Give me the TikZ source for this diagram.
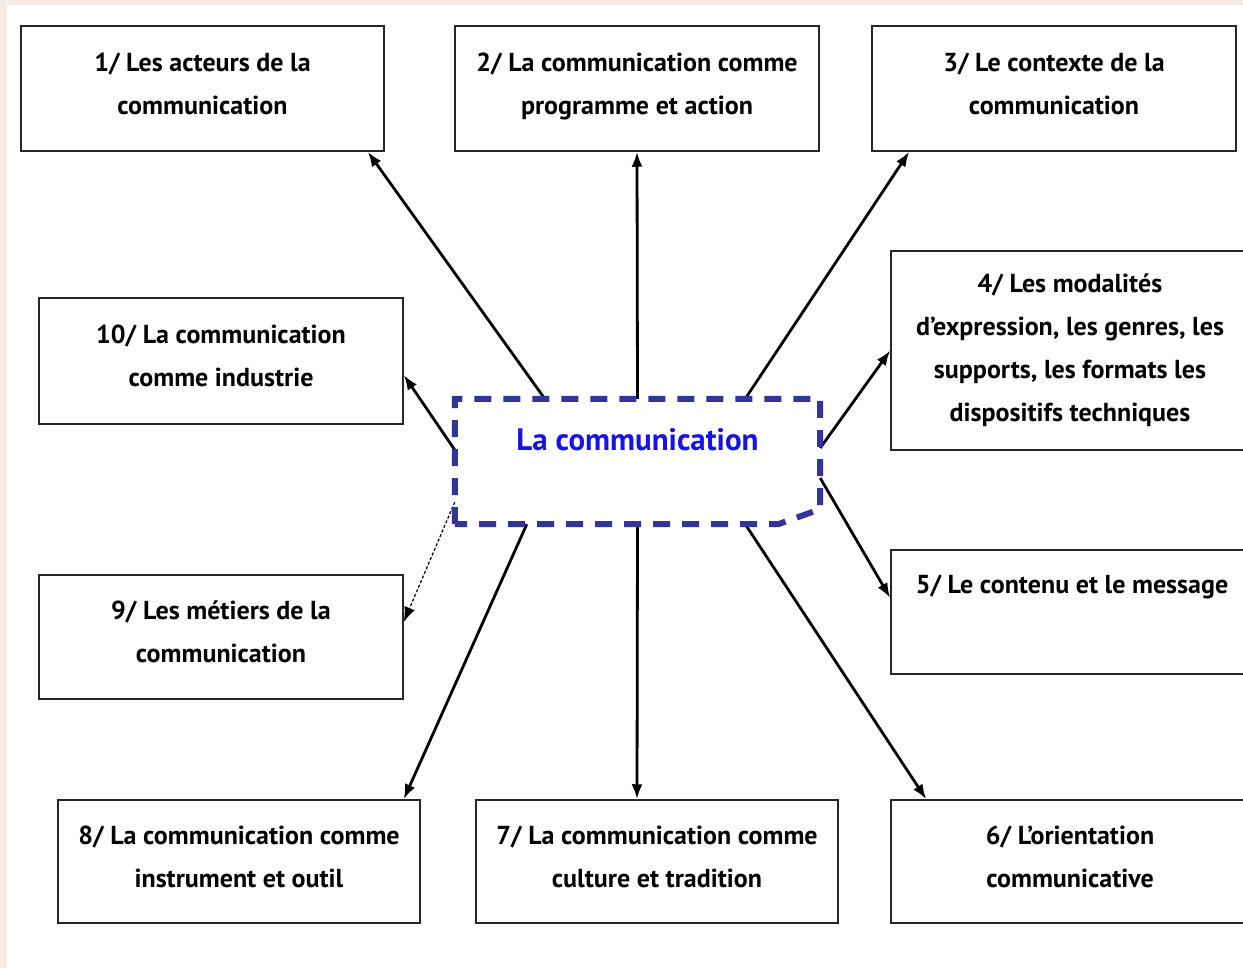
\documentclass[tikz,border=0pt]{standalone}
\usepackage{fontspec}
\setmainfont{PT Sans}
\usepackage{tikz}
\usetikzlibrary{arrows.meta}
\definecolor{fond}{HTML}{F6ECE6}
\definecolor{cadre}{HTML}{333399}
\definecolor{titre}{HTML}{1414E6}
\tikzset{
  box/.style={draw=black!85, line width=1.5pt, fill=white, align=center,
    font=\bfseries\fontsize{26}{43}\selectfont, inner sep=0pt},
  fleche/.style={line width=2.8pt, -{Latex[length=15pt,width=11pt]}},
}
\begin{document}
\begin{tikzpicture}[x=1pt,y=-1pt]
	\useasboundingbox (0,0) rectangle (1243,968);
	\fill [fond] (0,0) rectangle (1243,968);
	\fill [white] (7,5) rectangle (1243,968);
	\node [box, minimum width=363pt, minimum height=125pt] (b1) at (202.5,88.5) {1/ Les acteurs de la\\communication\\[-33pt]\mbox{}};
	\node [box, minimum width=364pt, minimum height=125pt] (b2) at (637,88.5) {2/ La communication comme\\programme et action\\[-33pt]\mbox{}};
	\node [box, minimum width=364pt, minimum height=125pt] (b3) at (1054,88.5) {3/ Le contexte de la\\communication\\[-33pt]\mbox{}};
	\node [box, minimum width=358pt, minimum height=199pt] (b4) at (1070,350.5) {4/ Les modalités\\d'expression, les genres, les\\supports, les formats les\\dispositifs techniques};
	\node [box, minimum width=362pt, minimum height=124pt] (b5) at (1072,612) {5/ Le contenu et le message\\\strut};
	\node [box, minimum width=358pt, minimum height=123pt] (b6) at (1070,861.5) {6/ L'orientation\\communicative\\[-33pt]\mbox{}};
	\node [box, minimum width=362pt, minimum height=123pt] (b7) at (657,861.5) {7/ La communication comme\\culture et tradition\\[-33pt]\mbox{}};
	\node [box, minimum width=362pt, minimum height=123pt] (b8) at (239,861.5) {8/ La communication comme\\instrument et outil\\[-33pt]\mbox{}};
	\node [box, minimum width=364pt, minimum height=124pt] (b9) at (221,637) {9/ Les métiers de la\\communication\\[-33pt]\mbox{}};
	\node [box, minimum width=364pt, minimum height=126pt] (b10) at (221,361) {10/ La communication\\comme industrie\\[-33pt]\mbox{}};
	\node [align=center, minimum width=365pt, minimum height=125pt, text=titre,
	  font=\bfseries\fontsize{31}{43}\selectfont] (cen) at (637.5,461.5) {La communication\\[-12pt]\strut};
	% liens
	\draw [fleche] ([xshift=90pt]cen.north west) -- ([xshift=-17pt]b1.south east);
	\draw [fleche] (cen.north) -- (b2.south);
	\draw [fleche] ([xshift=-75pt]cen.north east) -- ([xshift=38pt]b3.south west);
	\draw [fleche] ([yshift=13.5pt]cen.east) -- (b4.west);
	\draw [fleche] ([yshift=-16.5pt]cen.east) -- ([yshift=14pt]b5.west);
	\draw [fleche] ([xshift=-75pt]cen.south east) -- ([xshift=36pt]b6.north west);
	\draw [fleche] (cen.south) -- ([xshift=-20pt]b7.north);
	\draw [fleche] ([xshift=72pt]cen.south west) -- ([xshift=-17pt]b8.north east);
	\draw [fleche, line width=1.2pt, densely dashed] ([yshift=-40.5pt]cen.west) -- ([yshift=15pt]b9.east);
	\draw [fleche] ([yshift=11.5pt]cen.west) -- ([yshift=-14pt]b10.east);
	\draw [cadre, line width=6pt, dash pattern=on 17pt off 12pt]
	  (cen.south west) -- (cen.north west) -- (cen.north east) -- ([yshift=15pt]cen.south east)
	  -- ([xshift=-42pt]cen.south east) -- cycle;
\end{tikzpicture}
\end{document}
